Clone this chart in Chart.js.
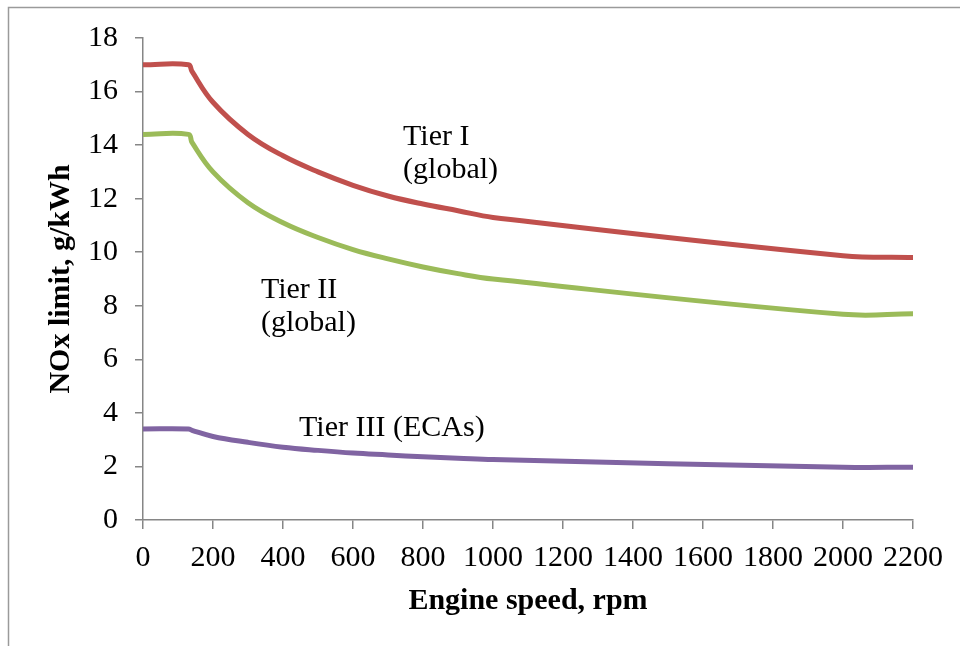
<!DOCTYPE html>
<html>
<head>
<meta charset="utf-8">
<script src="https://cdn.jsdelivr.net/npm/chart.js@4.4.1/dist/chart.umd.min.js"></script>
<style>
html, body { margin: 0; padding: 0; background: #fff; }
#wrap { width: 960px; height: 646px; position: relative; }
</style>
</head>
<body>
<div id="wrap"><canvas id="chartNOx"></canvas></div>
<script>
// engine speed (rpm) and NOx limits (g/kWh)
const speeds  = [0, 130, 140, 200, 300, 400, 500, 600, 700, 800, 900, 1000, 2000, 2200];
const tierI   = [17.0, 17.0, 16.75, 15.6, 14.4, 13.6, 13.0, 12.5, 12.1, 11.8, 11.55, 11.3, 9.87, 9.8];
const tierII  = [14.4, 14.4, 14.1, 13.0, 11.85, 11.1, 10.55, 10.1, 9.75, 9.45, 9.2, 9.0, 7.68, 7.7];
const tierIII = [3.4, 3.4, 3.35, 3.12, 2.9, 2.72, 2.6, 2.5, 2.43, 2.36, 2.31, 2.26, 1.97, 1.97];

const xMin = 0, xMax = 2200, xStep = 200;
const yMin = 0, yMax = 18, yStep = 2;

// curve labels: text lines and where they sit (data units)
const curveLabels = [
    { lines: ['Tier I', '(global)'], x: 743, y: 14.0 },
    { lines: ['Tier II', '(global)'], x: 337, y: 8.3 },
    { lines: ['Tier III (ECAs)'], x: 446, y: 3.14 },
];

const axisGrey = '#868686';
const serif = '"Liberation Serif", "DejaVu Serif", serif';

function toPoints(values) {
    return speeds.map((s, i) => ({ x: s, y: values[i] }));
}

function series(label, values, color) {
    return {
        label: label,
        data: toPoints(values),
        borderColor: color,
        backgroundColor: color,
        borderWidth: 5,
        borderCapStyle: 'round',
        borderJoinStyle: 'round',
        pointRadius: 0,
        pointHoverRadius: 0,
        tension: 0.4,
        fill: false,
    };
}

// grey frame around the picture (top and left edges)
const framePlugin = {
    id: 'frame',
    beforeDraw(chart) {
        const ctx = chart.ctx;
        ctx.save();
        ctx.strokeStyle = '#9a9a9a';
        ctx.lineWidth = 1.5;
        ctx.beginPath();
        ctx.moveTo(960, 7.5);
        ctx.lineTo(8.5, 7.5);
        ctx.lineTo(8.5, 646);
        ctx.stroke();
        ctx.restore();
    }
};

const labelPlugin = {
    id: 'curveLabels',
    afterDatasetsDraw(chart) {
        const ctx = chart.ctx;
        const xs = chart.scales.x, ys = chart.scales.y;
        ctx.save();
        ctx.font = '30px ' + serif;
        ctx.fillStyle = '#000';
        ctx.textAlign = 'left';
        ctx.textBaseline = 'alphabetic';
        curveLabels.forEach(l => {
            const px = xs.getPixelForValue(l.x);
            const py = ys.getPixelForValue(l.y);
            l.lines.forEach((t, i) => ctx.fillText(t, px, py + i * 33));
        });
        ctx.restore();
    }
};

const ctx = document.getElementById('chartNOx').getContext('2d');

window.noxChart = new Chart(ctx, {
    type: 'line',
    data: {
        datasets: [
            series('Tier I', tierI, '#C0504D'),
            series('Tier II', tierII, '#9BBB59'),
            series('Tier III', tierIII, '#8064A2'),
        ]
    },
    options: {
        responsive: true,
        maintainAspectRatio: false,
        animation: false,
        layout: {
            padding: { top: 38, right: 47, bottom: 0, left: 0 }
        },
        plugins: {
            legend: { display: false },
            tooltip: { enabled: false }
        },
        scales: {
            x: {
                type: 'linear',
                min: xMin,
                max: xMax,
                ticks: {
                    stepSize: xStep,
                    color: '#000',
                    padding: 11,
                    font: { family: serif, size: 30 },
                    maxRotation: 0,
                    autoSkip: false,
                    callback: v => String(v)
                },
                grid: {
                    drawOnChartArea: false,
                    drawTicks: true,
                    tickLength: 9,
                    color: axisGrey,
                    lineWidth: 1.5
                },
                border: { display: true, color: axisGrey, width: 1.5 },
                title: {
                    display: true,
                    text: 'Engine speed, rpm',
                    color: '#000',
                    font: { family: serif, size: 30, weight: 'bold' },
                    padding: { top: 0, bottom: 27 }
                },
                afterFit(scale) { scale.height = 126; }
            },
            y: {
                type: 'linear',
                min: yMin,
                max: yMax,
                ticks: {
                    stepSize: yStep,
                    color: '#000',
                    padding: 17,
                    font: { family: serif, size: 30 },
                    callback: v => String(v)
                },
                grid: {
                    drawOnChartArea: false,
                    drawTicks: true,
                    tickLength: 8,
                    color: axisGrey,
                    lineWidth: 1.5
                },
                border: { display: true, color: axisGrey, width: 1.5 },
                title: {
                    display: true,
                    text: 'NOx limit, g/kWh',
                    color: '#000',
                    font: { family: serif, size: 30, weight: 'bold' },
                    padding: { top: 43, bottom: 0 }
                },
                afterFit(scale) { scale.width = 143; }
            }
        }
    },
    plugins: [framePlugin, labelPlugin]
});
</script>
</body>
</html>
